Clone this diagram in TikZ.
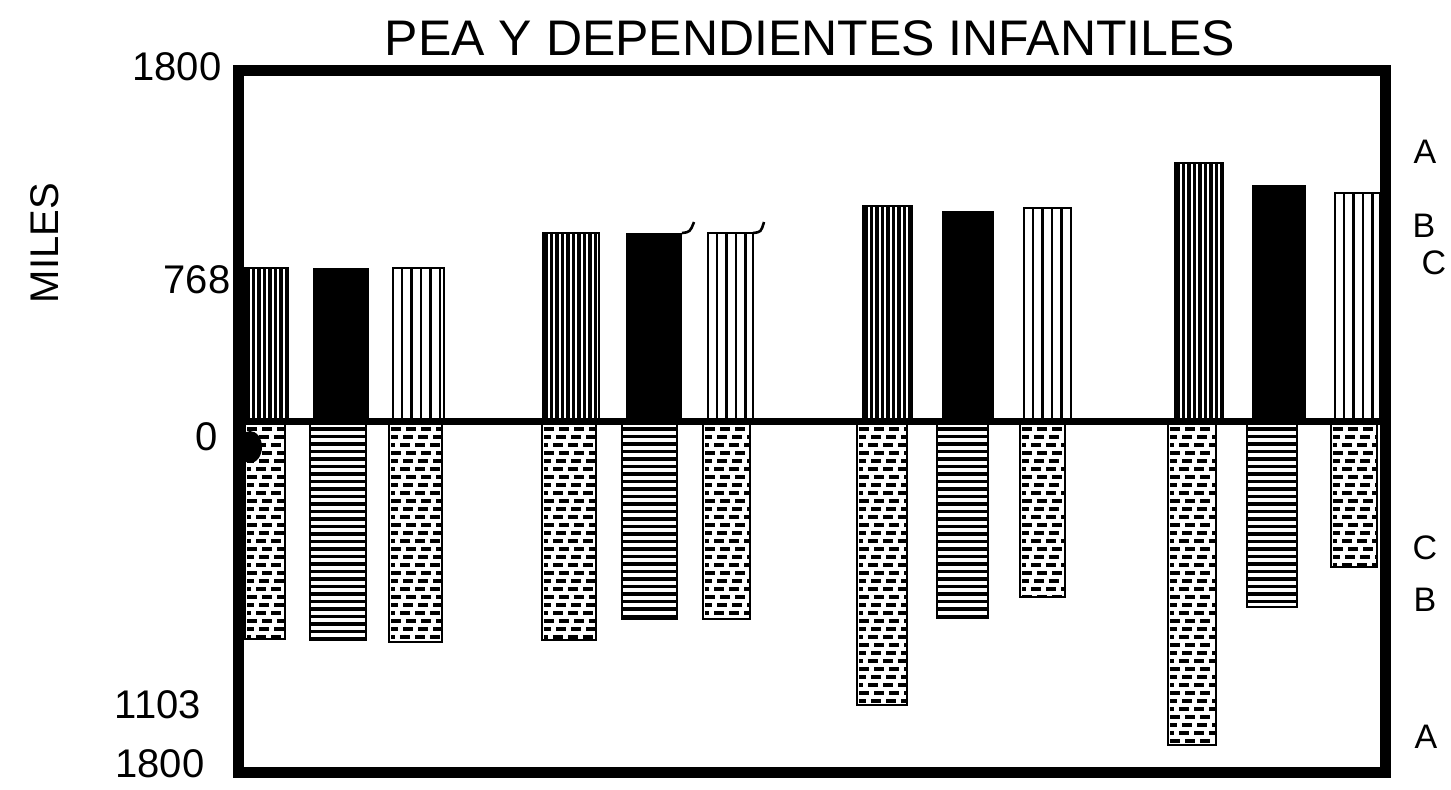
\documentclass[tikz,border=0pt]{standalone}
\usepackage{fontspec}
\setmainfont{Liberation Sans}

\tikzset{
  frame/.style={line width=5.5pt, line join=miter},
  zeroline/.style={line width=3.5pt},
  barline/.style={line width=1.3pt},
  densebar/.style={line width=1.6pt},
  sparsebar/.style={line width=1.1pt},
  hbar/.style={line width=1.7pt},
  dashbar/.style={line width=1.8pt, dash pattern=on 5pt off 2.5pt},
  ticklabel/.style={font=\fontsize{20}{20}\selectfont, inner sep=0pt},
  sidelabel/.style={font=\fontsize{17}{17}\selectfont, inner sep=0pt},
}

\begin{document}
\begin{tikzpicture}[x=0.5pt, y=-0.5pt]
\useasboundingbox (0,0) rectangle (1451,789);

% upper bars, dense vertical lines
\foreach \xl/\xr/\t in {245/288/268, 543/599/233, 863/912/206, 1175/1223/163} {
  \begin{scope}
    \clip (\xl,\t) rectangle (\xr,421);
    \foreach \i in {0,...,10}
      \draw[densebar] (\xl+3+5.5*\i,\t) -- (\xl+3+5.5*\i,421);
  \end{scope}
  \draw[barline] (\xl,421) |- (\xr,\t) -- (\xr,421);
}

% upper bars, solid
\foreach \xl/\xr/\t in {313/369/268, 626/682/233, 942/994/211, 1252/1306/185}
  \fill (\xl,\t) rectangle (\xr,421);

% upper bars, sparse vertical lines
\foreach \xl/\xr/\t in {393/444/268, 708/753/233, 1024/1071/208, 1335/1380/193} {
  \begin{scope}
    \clip (\xl,\t) rectangle (\xr,421);
    \foreach \i in {0,...,5}
      \draw[sparsebar] (\xl+9+9.5*\i,\t) -- (\xl+9+9.5*\i,421);
  \end{scope}
  \draw[barline] (\xl,421) |- (\xr,\t) -- (\xr,421);
}

% pen strokes at two bar tops
\draw[barline] (682,233) .. controls (690,232) .. (694,222);
\draw[barline] (753,233) .. controls (761,232) .. (764,222);

% lower bars, dashes
\foreach \xl/\xr/\b in {245/285/639, 542/596/640, 857/907/705, 1168/1216/745,
                        389/442/642, 703/750/619, 1020/1065/597, 1331/1377/567} {
  \begin{scope}
    \clip (\xl,421) rectangle (\xr,\b);
    \foreach \j [evaluate=\j as \ph using {mod(\j,3)*1.5}] in {0,...,42}
      \draw[dashbar, dash phase=\ph pt] (\xl+2,429+8*\j) -- (\xr,429+8*\j);
  \end{scope}
  \draw[barline] (\xl,421) |- (\xr,\b) -- (\xr,421);
}

% lower bars, horizontal lines
\foreach \xl/\xr/\b in {310/366/640, 622/677/619, 937/988/618, 1247/1297/607} {
  \begin{scope}
    \clip (\xl,421) rectangle (\xr,\b);
    \foreach \j in {0,...,30}
      \draw[hbar] (\xl,429+7.5*\j) -- (\xr,429+7.5*\j);
  \end{scope}
  \draw[barline] (\xl,421) |- (\xr,\b) -- (\xr,421);
}

% ink blot
\fill (250,447) ellipse [x radius=12, y radius=16];

\draw[zeroline] (238,421) -- (1385,421);
\draw[frame] (238,70) rectangle (1385,772);

\node[font=\fontsize{25}{25}\selectfont, inner sep=0pt] (title) at (810,38)
  {PEA Y DEPENDIENTES INFANTILES};
\node[ticklabel, rotate=90] (miles) at (45,243) {MILES};

\node[ticklabel] (ytop) at (177,67) {1800};
\node[ticklabel] (ymid) at (197,280) {768};
\node[ticklabel] (yzero) at (207,437) {0};
\node[ticklabel] (ylow) at (158,705) {1103};
\node[ticklabel] (ybot) at (160,764) {1800};

\node[sidelabel] (ua) at (1425,152) {A};
\node[sidelabel] (ub) at (1424,226) {B};
\node[sidelabel] (uc) at (1434,263) {C};
\node[sidelabel] (lc) at (1425,548) {C};
\node[sidelabel] (lb) at (1425,600) {B};
\node[sidelabel] (la) at (1426,737) {A};

\end{tikzpicture}
\end{document}
